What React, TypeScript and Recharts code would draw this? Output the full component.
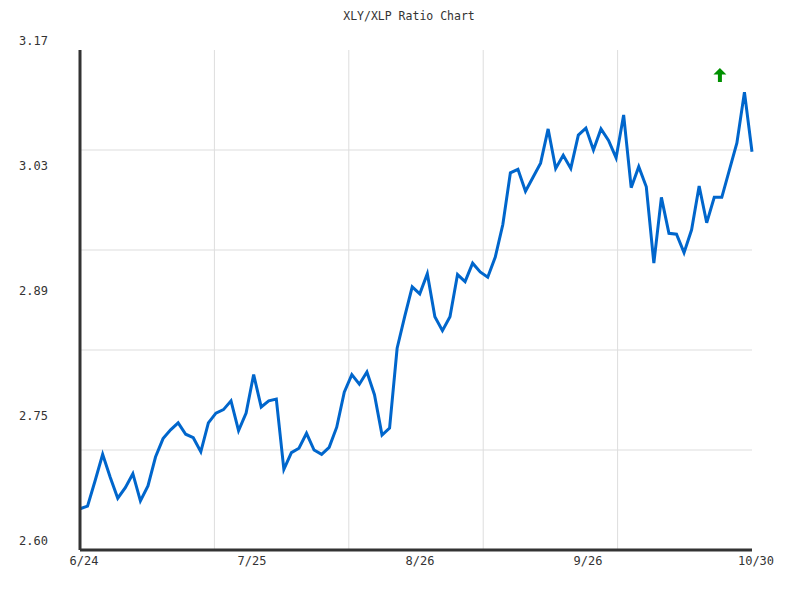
import React from 'react';
import { LineChart, Line, XAxis, YAxis, ReferenceLine, ReferenceDot } from 'recharts';

const chartTitle = 'XLY/XLP Ratio Chart';

const ratioValues = [
  2.647, 2.650, 2.679, 2.709, 2.683, 2.659, 2.671, 2.687, 2.656, 2.673,
  2.706, 2.727, 2.737, 2.745, 2.732, 2.728, 2.712, 2.745, 2.756, 2.760,
  2.770, 2.736, 2.756, 2.800, 2.763, 2.770, 2.772, 2.692, 2.711, 2.716,
  2.733, 2.714, 2.709, 2.717, 2.740, 2.780, 2.800, 2.789, 2.803, 2.777,
  2.731, 2.739, 2.830, 2.866, 2.900, 2.892, 2.915, 2.866, 2.850, 2.866,
  2.914, 2.906, 2.927, 2.917, 2.911, 2.934, 2.971, 3.030, 3.034, 3.009,
  3.025, 3.041, 3.080, 3.035, 3.050, 3.035, 3.073, 3.081, 3.056, 3.080,
  3.067, 3.047, 3.096, 3.013, 3.037, 3.014, 2.927, 3.002, 2.961, 2.960,
  2.939, 2.965, 3.015, 2.973, 3.002, 3.002, 3.033, 3.064, 3.122, 3.054,
];

const xTickIndex = [0, 22.25, 44.5, 66.75, 89];
const xTickLabels = ['6/24', '7/25', '8/26', '9/26', '10/30'];
const yTickValues = [2.6, 2.7425, 2.885, 3.0275, 3.17];
const yTickLabels = ['2.60', '2.75', '2.89', '3.03', '3.17'];
const yDomain: [number, number] = [2.6, 3.17];
const signalIndex = 84.75;
const signalValue = 3.1415;

const data = ratioValues.map((v, i) => ({ i, v }));
const lastIndex = ratioValues.length - 1;
const gridY = [1, 2, 3, 4].map((k) => yDomain[0] + ((yDomain[1] - yDomain[0]) * k) / 5);
const gridX = [1, 2, 3, 4].map((k) => (lastIndex * k) / 5);

const FONT = '"DejaVu Sans Mono", monospace';

const XTick = (props: any) => {
  const { x, y, index } = props;
  return (
    <text x={x + 4} y={y + 11} dy="0.355em" textAnchor="middle" fontFamily={FONT} fontSize={12} fill="#333">
      {xTickLabels[index]}
    </text>
  );
};

const YTick = (props: any) => {
  const { x, y, index } = props;
  return (
    <text x={x - 32} y={y - 9} dy="0.355em" textAnchor="end" fontFamily={FONT} fontSize={12} fill="#333">
      {yTickLabels[index]}
    </text>
  );
};

const ArrowShape = (props: any) => {
  const { cx, cy } = props;
  if (cx == null || cy == null) return null;
  const d = `M${cx},${cy - 7} L${cx + 6.5},${cy - 0.5} L${cx + 2},${cy - 0.5} L${cx + 2},${cy + 7} L${cx - 2},${cy + 7} L${cx - 2},${cy - 0.5} L${cx - 6.5},${cy - 0.5} Z`;
  return <path d={d} fill="#009000" />;
};

export default function App() {
  return (
    <div style={{ position: 'absolute', left: 0, top: 0, width: 800, height: 600, background: '#fff' }}>
      <div
        style={{
          position: 'absolute',
          left: 309,
          width: 200,
          top: 9,
          textAlign: 'center',
          fontFamily: FONT,
          fontSize: 11.5,
          color: '#333',
          lineHeight: '15px',
        }}
      >
        {chartTitle}
      </div>
      <LineChart width={800} height={600} data={data} margin={{ top: 50, right: 48, left: 20, bottom: 20 }}>
        {gridY.map((v) => (
          <ReferenceLine key={'gy' + v} y={v} stroke="#dddddd" strokeWidth={1} />
        ))}
        {gridX.map((v) => (
          <ReferenceLine key={'gx' + v} x={v} stroke="#dddddd" strokeWidth={1} />
        ))}
        <XAxis
          type="number"
          dataKey="i"
          domain={[0, lastIndex]}
          ticks={xTickIndex}
          interval={0}
          tick={<XTick />}
          tickLine={false}
          tickSize={0}
          tickMargin={0}
          axisLine={{ stroke: '#333', strokeWidth: 3 }}
          height={30}
          allowDecimals
        />
        <YAxis
          type="number"
          domain={yDomain}
          ticks={yTickValues}
          interval={0}
          tick={<YTick />}
          tickLine={false}
          tickSize={0}
          tickMargin={0}
          axisLine={{ stroke: '#333', strokeWidth: 3 }}
          width={60}
          allowDataOverflow
        />
        <Line
          type="linear"
          dataKey="v"
          stroke="#0066cc"
          strokeWidth={3}
          dot={false}
          activeDot={false}
          isAnimationActive={false}
        />
        <ReferenceDot x={signalIndex} y={signalValue} shape={<ArrowShape />} ifOverflow="visible" />
      </LineChart>
    </div>
  );
}
